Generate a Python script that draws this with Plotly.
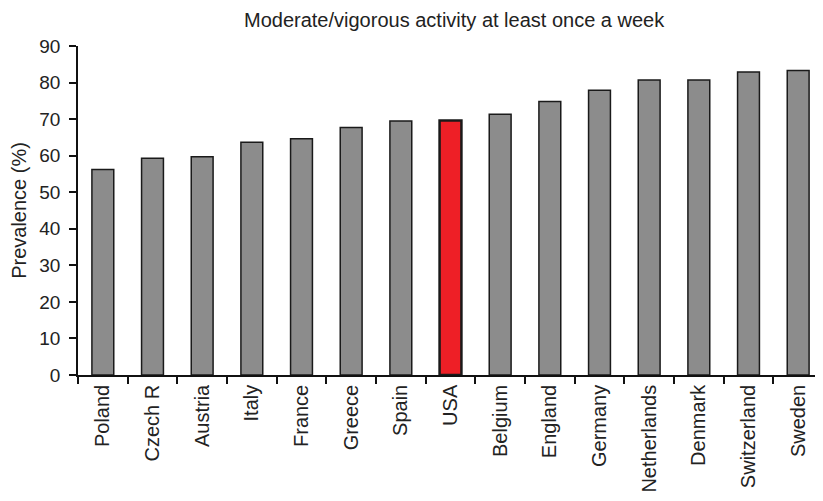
import plotly.graph_objects as go

countries = ["Poland", "Czech R", "Austria", "Italy", "France", "Greece", "Spain", "USA",
             "Belgium", "England", "Germany", "Netherlands", "Denmark", "Switzerland", "Sweden"]
prevalence = [56.2, 59.3, 59.7, 63.7, 64.6, 67.7, 69.5, 69.6, 71.3, 74.8, 77.9, 80.7, 80.7, 82.9, 83.3]
y_ticks = [0, 10, 20, 30, 40, 50, 60, 70, 80, 90]
title_text = "Moderate/vigorous activity at least once a week"

colors = ["#ee1f26" if c == "USA" else "#8c8c8c" for c in countries]
line_w = [2.5 if c == "USA" else 1.5 for c in countries]

fig = go.Figure(go.Bar(
    x=countries, y=prevalence, width=0.44,
    marker=dict(color=colors, line=dict(color="#1a1a1a", width=line_w)),
))

# page has an 8px body margin, so the figure is sized 8px smaller each way
fig.update_layout(
    width=815, height=493,
    margin=dict(l=70, r=0, t=38, b=126),
    plot_bgcolor="white", paper_bgcolor="white",
    font=dict(family="Liberation Sans, Arial, sans-serif", size=20, color="#222"),
    showlegend=False,
    annotations=[dict(text=title_text, x=0.505, xref="paper", y=1.0, yref="paper",
                      yanchor="middle", yshift=26, showarrow=False,
                      font=dict(size=20))],
)

fig.update_xaxes(
    type="category", range=[-0.5, 14.5],
    showline=True, linecolor="#111", linewidth=1.5,
    ticks="outside", tickson="boundaries", ticklen=7, tickcolor="#111", tickwidth=1.5,
    tickangle=-90, tickfont=dict(size=20), showgrid=False,
)
fig.update_yaxes(
    range=[0, 90], tickvals=y_ticks,
    showline=True, linecolor="#111", linewidth=1.5,
    ticks="outside", ticklen=7, tickcolor="#111", tickwidth=1.5,
    ticklabelstandoff=5,
    showgrid=False, zeroline=False,
    title=dict(text="Prevalence (%)", font=dict(size=20), standoff=10),
    tickfont=dict(size=19),
)

fig.write_html("out.html")
